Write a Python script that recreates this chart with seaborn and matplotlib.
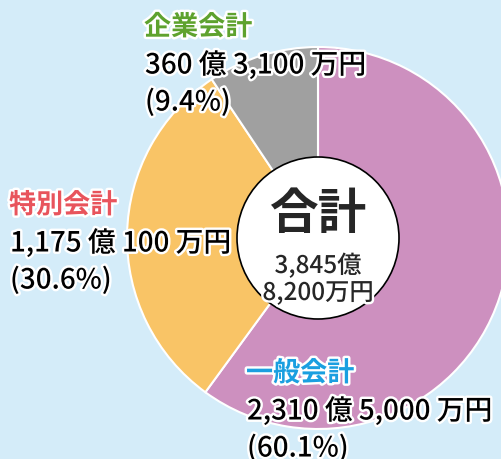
import matplotlib.pyplot as plt
import matplotlib.patheffects as pe
import seaborn as sns

# Data
categories = ['一般会計', '特別会計', '企業会計']
shares = [60.1, 30.6, 9.4]
amounts = ['2,310 億 5,000 万円', '1,175 億 100 万円', '360 億 3,100 万円']
total_lines = ['3,845億', '8,200万円']

wedge_colors = ['#cd90bf', '#f9c466', '#a0a0a0']
title_colors = ['#1a9fe0', '#e8545c', '#5ea22e']

sns.set_theme(style='white')
plt.rcParams['font.family'] = ['Noto Sans CJK JP', 'DejaVu Sans']

W, H = 502, 459
fig = plt.figure(figsize=(W / 100, H / 100), dpi=100)
fig.patch.set_facecolor('#d4ecf9')
ax = fig.add_axes([0, 0, 1, 1])

cx, cy, r = 318, H - 238, 191
ax.pie(shares, colors=wedge_colors, startangle=90, counterclock=False,
       center=(cx, cy), radius=r, frame=True,
       wedgeprops=dict(edgecolor='white', linewidth=1.5))
ax.set_xlim(0, W)
ax.set_ylim(0, H)
ax.set_aspect('equal')
ax.axis('off')

ax.add_patch(plt.Circle((cx, cy), 81, facecolor='white', edgecolor='black', linewidth=1.2, zorder=3))

stroke = [pe.withStroke(linewidth=3.5, foreground='white')]

# label anchors (left x, centre y of title in pixels)
label_pos = [(246, 373), (9, 205), (144, 27)]
for name, amt, pct, col, (x, y) in zip(categories, amounts, shares, title_colors, label_pos):
    ax.text(x, H - y, name, color=col, fontsize=19.5, fontweight='bold',
            va='center', ha='left', path_effects=stroke, zorder=5)
    ax.text(x + 1, H - y - 38, amt, color='black', fontsize=20, fontweight='medium',
            va='center', ha='left', path_effects=stroke, zorder=5)
    ax.text(x + 1, H - y - 75, f'({pct}%)', color='black', fontsize=20, fontweight='medium',
            va='center', ha='left', path_effects=stroke, zorder=5)

ax.text(cx, H - 215, '合計', fontsize=35, fontweight='bold', ha='center', va='center', zorder=5)
ax.text(cx, H - 266, total_lines[0], fontsize=17.5, fontweight='medium', ha='center', va='center',
        path_effects=stroke, zorder=5)
ax.text(cx, H - 293, total_lines[1], fontsize=17.5, fontweight='medium', ha='center', va='center',
        path_effects=stroke, zorder=5)

fig.savefig('out.png', dpi=100, facecolor=fig.get_facecolor())
